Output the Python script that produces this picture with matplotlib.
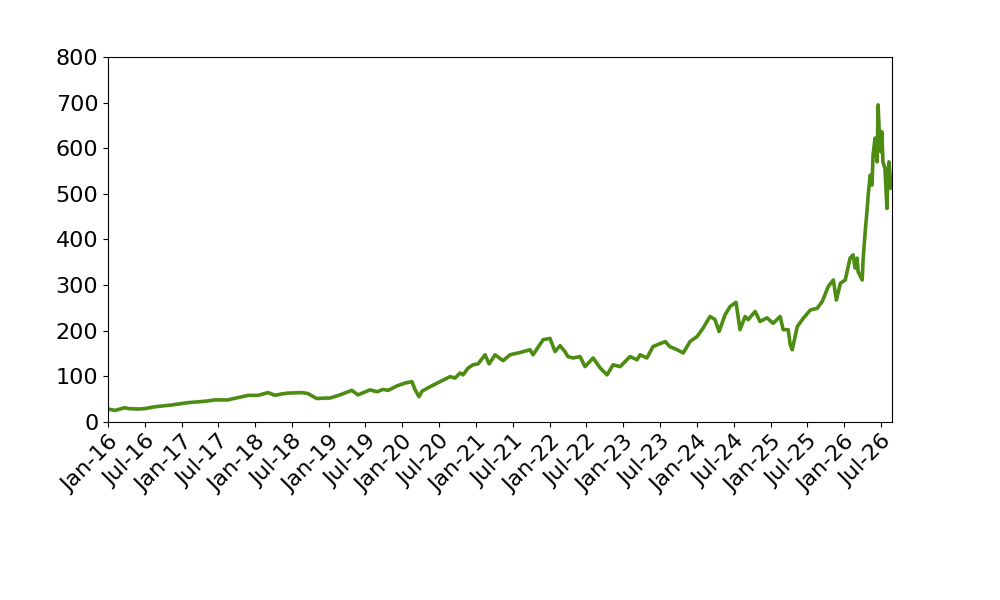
import pandas as pd
import matplotlib
matplotlib.use('Agg')
import matplotlib.pyplot as plt
import matplotlib.dates as mdates

# price series
dates = [
    '2016-01-01', '2016-02-05', '2016-03-25', '2016-04-09', '2016-06-01', '2016-07-02',
    '2016-08-21', '2016-11-14', '2017-02-01', '2017-04-26', '2017-06-15', '2017-08-19',
    '2017-09-15', '2017-10-08', '2017-11-26', '2018-01-14', '2018-03-05', '2018-04-09',
    '2018-05-10', '2018-06-12', '2018-08-21', '2018-09-19', '2018-11-02', '2018-12-12',
    '2019-01-06', '2019-02-25', '2019-04-25', '2019-05-25', '2019-07-24', '2019-08-28',
    '2019-09-27', '2019-10-22', '2019-12-06', '2020-01-14', '2020-02-17', '2020-03-03',
    '2020-03-23', '2020-04-07', '2020-05-17', '2020-07-05', '2020-08-24', '2020-09-18',
    '2020-10-13', '2020-10-28', '2020-11-22', '2020-12-16', '2021-01-10', '2021-02-14',
    '2021-03-06', '2021-04-05', '2021-05-14', '2021-06-18', '2021-08-07', '2021-09-25',
    '2021-10-10', '2021-11-29', '2022-01-02', '2022-01-27', '2022-02-21', '2022-03-17',
    '2022-04-01', '2022-04-26', '2022-05-31', '2022-06-25', '2022-08-04', '2022-09-08',
    '2022-10-12', '2022-11-11', '2022-12-16', '2023-02-03', '2023-03-10', '2023-03-25',
    '2023-04-28', '2023-05-28', '2023-07-28', '2023-08-19', '2023-09-25', '2023-10-25',
    '2023-11-28', '2024-01-02', '2024-01-31', '2024-03-06', '2024-03-31', '2024-04-20',
    '2024-05-20', '2024-06-14', '2024-07-13', '2024-08-02', '2024-08-27', '2024-09-11',
    '2024-10-16', '2024-11-09', '2024-12-14', '2025-01-13', '2025-02-17', '2025-03-04',
    '2025-03-29', '2025-04-08', '2025-04-18', '2025-05-13', '2025-06-12', '2025-07-16',
    '2025-08-20', '2025-09-14', '2025-10-14', '2025-11-08', '2025-11-23', '2025-12-13',
    '2026-01-06', '2026-01-30', '2026-02-14', '2026-02-24', '2026-03-06', '2026-03-11',
    '2026-03-31', '2026-04-05', '2026-04-15', '2026-04-25', '2026-04-30', '2026-05-10',
    '2026-05-19', '2026-05-24', '2026-06-03', '2026-06-13', '2026-06-18', '2026-06-23',
    '2026-07-02', '2026-07-07', '2026-07-12', '2026-07-22', '2026-08-01', '2026-08-06',
    '2026-08-11', '2026-08-21', '2026-08-26',
]
price = [
    28, 25, 31, 29, 28, 29,
    33, 37, 42, 45, 48, 48,
    51, 53, 58, 58, 64, 58,
    61, 63, 64, 62, 51, 52,
    52, 59, 69, 59, 70, 66,
    71, 69, 79, 85, 88, 71,
    55, 67, 77, 88, 99, 96,
    107, 103, 118, 125, 127, 147,
    127, 147, 134, 147, 152, 158,
    147, 180, 183, 154, 167, 154,
    143, 140, 143, 121, 140, 118,
    103, 125, 121, 143, 136, 147,
    140, 165, 176, 165, 158, 151,
    176, 187, 205, 231, 224, 198,
    235, 253, 262, 202, 231, 224,
    242, 220, 228, 216, 231, 202,
    202, 169, 158, 209, 227, 245,
    249, 264, 297, 311, 267, 304,
    311, 359, 366, 337, 359, 329,
    311, 359, 417, 468, 498, 541,
    519, 585, 622, 570, 695, 644,
    592, 636, 570, 556, 468, 541,
    570, 512, 525,
]

df = pd.DataFrame({'Date': pd.to_datetime(dates), 'Price': price})

fig, ax = plt.subplots(figsize=(10, 6), dpi=100)
fig.subplots_adjust(left=0.108, right=0.892, top=0.905, bottom=0.297)

ax.plot(df['Date'], df['Price'], color='#4c8c12', linewidth=2.6)

ax.set_xlim(df['Date'].min(), df['Date'].max())
ax.set_ylim(0, 800)
ax.set_yticks(range(0, 801, 100))

ax.xaxis.set_major_locator(mdates.MonthLocator(bymonth=[1, 7]))
ax.xaxis.set_major_formatter(mdates.DateFormatter('%b-%y'))
plt.setp(ax.get_xticklabels(), rotation=45, ha='right', rotation_mode='anchor')
ax.tick_params(axis='both', labelsize=16)

fig.savefig('out.png', dpi=100)
